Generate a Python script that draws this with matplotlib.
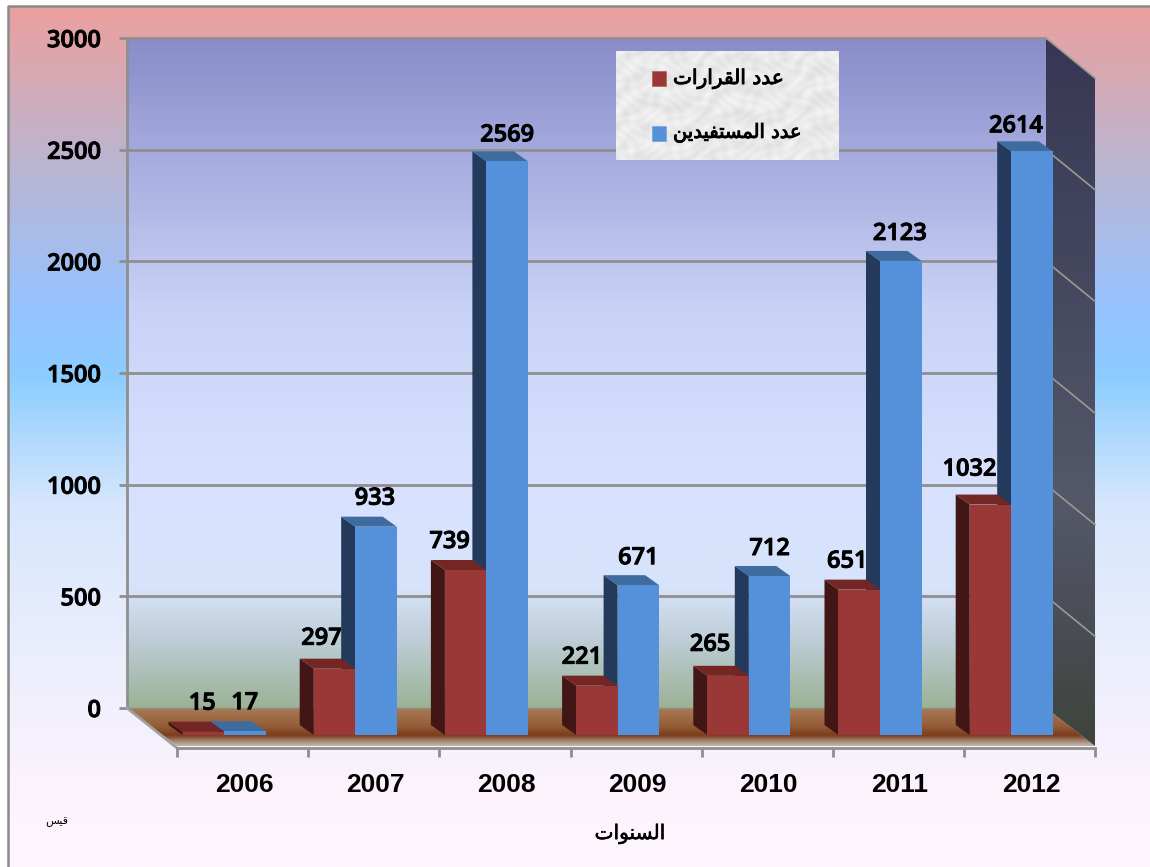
import matplotlib
matplotlib.use('Agg')
import matplotlib.pyplot as plt
import matplotlib.patheffects as pe
import numpy as np
from matplotlib.colors import LinearSegmentedColormap
from matplotlib.patches import Polygon

# Chart data
years = ['2006', '2007', '2008', '2009', '2010', '2011', '2012']
decisions = [15, 297, 739, 221, 265, 651, 1032]
beneficiaries = [17, 933, 2569, 671, 712, 2123, 2614]
y_ticks = [0, 500, 1000, 1500, 2000, 2500, 3000]
legend_decisions = 'عدد القرارات'
legend_beneficiaries = 'عدد المستفيدين'
x_title = 'السنوات'
note = 'قيس'

# Label nudges in pixels, the labels do not sit centered in the original
red_label_dx = [-1, -13, -16, -15, -18, -12, -21]
blue_label_dx = [0, -1, 0, 0, 0, -1, -16]
red_label_dy = [28, 30, 28, 28, 31, 28, 35]
blue_label_dy = [28, 28, 26, 27, 27, 27, 25]

# Arabic joining forms (iso, final, initial, medial), matplotlib does not shape
forms = {
    'ا': (0xFE8D, 0xFE8E), 'د': (0xFEA9, 0xFEAA), 'ر': (0xFEAD, 0xFEAE), 'و': (0xFEED, 0xFEEE),
    'ت': (0xFE95, 0xFE96, 0xFE97, 0xFE98), 'ع': (0xFEC9, 0xFECA, 0xFECB, 0xFECC),
    'ل': (0xFEDD, 0xFEDE, 0xFEDF, 0xFEE0), 'ق': (0xFED5, 0xFED6, 0xFED7, 0xFED8),
    'م': (0xFEE1, 0xFEE2, 0xFEE3, 0xFEE4), 'س': (0xFEB1, 0xFEB2, 0xFEB3, 0xFEB4),
    'ف': (0xFED1, 0xFED2, 0xFED3, 0xFED4), 'ي': (0xFEF1, 0xFEF2, 0xFEF3, 0xFEF4),
    'ن': (0xFEE5, 0xFEE6, 0xFEE7, 0xFEE8),
}

def shape(text):
    out = []
    for i, ch in enumerate(text):
        if ch not in forms:
            out.append(ch)
            continue
        prev = text[i - 1] if i > 0 else ' '
        nxt = text[i + 1] if i + 1 < len(text) else ' '
        joins_prev = prev in forms and len(forms[prev]) == 4
        joins_next = nxt in forms and len(forms[ch]) == 4
        idx = {(0, 0): 0, (1, 0): 1, (0, 1): 2, (1, 1): 3}[(int(joins_prev), int(joins_next))]
        out.append(chr(forms[ch][idx]))
    return ''.join(reversed(out))

W, H = 1150, 867
PX_PER_UNIT = 0.2233
WALL_L, WALL_R, WALL_BASE = 127, 1046, 708
DX, DY = 49, 38
BAR_BASE = 735
BAR_W = 41.5
BAR_X0, CAT_W = 224, 131.2
DEPTH_X, DEPTH_Y = 14, 10
heavy = [pe.withStroke(linewidth=0.7, foreground='black')]

def wall_y(v):
    return WALL_BASE - v * PX_PER_UNIT

def gradient(ax, stops, x0, x1, y0, y1, clip=None, zorder=1):
    cmap = LinearSegmentedColormap.from_list('g', [(p, np.array(c) / 255) for p, c in stops])
    img = np.linspace(0, 1, 512).reshape(-1, 1)
    im = ax.imshow(img, cmap=cmap, extent=(x0, x1, y1, y0), aspect='auto', zorder=zorder,
                   vmin=0, vmax=1, interpolation='bilinear')
    if clip is not None:
        patch = Polygon(clip, closed=True, transform=ax.transData, fc='none', ec='none')
        ax.add_patch(patch)
        im.set_clip_path(patch)

fig = plt.figure(figsize=(W / 100, H / 100), dpi=100)
bg = fig.add_axes([0, 0, 1, 1])
ax = fig.add_axes([0, 0, 1, 1])

# Page background
gradient(bg, [(0, (236, 160, 158)), (0.17, (190, 180, 205)), (0.35, (150, 195, 255)),
              (0.43, (140, 205, 255)), (0.58, (215, 230, 252)), (0.8, (240, 240, 252)),
              (0.92, (253, 243, 253)), (1, (254, 246, 254))], 8, W, 6, H)
bg.plot([8, 8, W], [H, 6, 6], color='#8a8a8a', lw=1.8, zorder=2)

# Back wall, floor and right wall
gradient(bg, [(0, (136, 140, 200)), (0.17, (165, 170, 222)), (0.4, (200, 210, 245)),
              (0.66, (215, 225, 255)), (0.82, (215, 228, 250)), (0.9, (190, 205, 215)),
              (1, (155, 178, 150))], WALL_L, WALL_R, wall_y(3000), wall_y(0), zorder=3)
floor = [(WALL_L, WALL_BASE), (WALL_R, WALL_BASE), (WALL_R + DX, WALL_BASE + DY), (WALL_L + DX + 1, WALL_BASE + DY)]
gradient(bg, [(0, (168, 122, 84)), (0.45, (150, 95, 58)), (0.72, (122, 62, 28)),
              (0.85, (160, 125, 100)), (1, (195, 185, 180))], WALL_L, WALL_R + DX, WALL_BASE, WALL_BASE + DY,
         clip=floor, zorder=3)
right_wall = [(WALL_R, wall_y(3000)), (WALL_R + DX, wall_y(3000) + 40), (WALL_R + DX, WALL_BASE + DY), (WALL_R, WALL_BASE)]
gradient(bg, [(0, (55, 55, 85)), (0.35, (70, 72, 95)), (0.65, (85, 88, 105)), (0.85, (72, 76, 82)),
              (1, (62, 68, 58))], WALL_R, WALL_R + DX, wall_y(3000), WALL_BASE + DY, clip=right_wall, zorder=3)

# Grid lines and frame
grid = '#8f8f8f'
for v in y_ticks:
    y = wall_y(v)
    if v > 0:
        bg.plot([119, WALL_R], [y, y], color=grid, lw=2, zorder=4, solid_capstyle='butt')
        bg.plot([WALL_R, WALL_R + DX], [y, y + 40], color='#9a9a90', lw=1.2, zorder=4)
    else:
        bg.plot([119, WALL_L], [y, y], color=grid, lw=2, zorder=4, solid_capstyle='butt')
        bg.plot([WALL_L, WALL_R], [y, y], color='#8f8f7f', lw=1, zorder=4)
    bg.text(101, y + 3, str(v), ha='right', va='center', fontsize=17, family='Open Sans', weight='semibold',
            zorder=6, path_effects=heavy)
bg.plot([WALL_L, WALL_L], [wall_y(3000), WALL_BASE], color=grid, lw=2, zorder=4)
bg.plot([WALL_L, WALL_L + DX + 1], [WALL_BASE, WALL_BASE + DY + 2], color='#a0a0a0', lw=2, zorder=4)
bg.plot([WALL_L + DX + 1, WALL_R + DX], [748, 748], color=grid, lw=2, zorder=4)
for i in range(len(years) + 1):
    tx = WALL_L + DX + 1 + i * CAT_W
    bg.plot([tx, tx], [748, 757], color=grid, lw=2, zorder=4, solid_capstyle='butt')
for i, year in enumerate(years):
    bg.text(244 + i * CAT_W, 785, year, ha='center', va='center', fontsize=19, family='Liberation Sans',
            weight='bold', zorder=6)

# Legend with a mottled paper look
xx, yy = np.meshgrid(np.arange(223), np.arange(109))
tex = 233 + 6 * np.sin(xx * 0.31 + 2 * np.sin(yy * 0.19)) * np.sin(yy * 0.37 + 2 * np.cos(xx * 0.13)) \
    + 4 * np.sin(xx * 0.11 + yy * 0.23 + 3 * np.sin(xx * 0.07))
bg.imshow(tex, cmap='gray', vmin=0, vmax=255, extent=(616, 839, 160, 51), aspect='auto', zorder=5,
          interpolation='bilinear')
bg.add_patch(plt.Rectangle((652, 71), 14, 15, fc='#993836', ec='#b06060', lw=0.5, zorder=6))
bg.add_patch(plt.Rectangle((652, 126), 14, 15, fc='#5591da', ec='#70a5e0', lw=0.5, zorder=6))
bg.text(673, 79, shape(legend_decisions), ha='left', va='center', fontsize=14.5, family='DejaVu Sans', zorder=6,
        path_effects=heavy)
bg.text(673, 133, shape(legend_beneficiaries), ha='left', va='center', fontsize=14, family='DejaVu Sans', zorder=6,
        path_effects=heavy)

bg.text(630, 834, shape(x_title), ha='center', va='center', fontsize=14.5, family='DejaVu Sans', zorder=6,
        path_effects=[pe.withStroke(linewidth=0.4, foreground='black')])
bg.text(57, 822, shape(note), ha='center', va='center', fontsize=8, family='DejaVu Sans', zorder=6)

bg.set_xlim(0, W)
bg.set_ylim(H, 0)
bg.axis('off')

# Bars live in their own axes, lined up with the front plane of the bars
ax.set_xlim(-BAR_X0 / CAT_W, (W - BAR_X0) / CAT_W)
ax.set_ylim((BAR_BASE - H) / PX_PER_UNIT, BAR_BASE / PX_PER_UNIT)
ax.patch.set_alpha(0)
ax.axis('off')

bw = BAR_W / CAT_W
depth_x = DEPTH_X / CAT_W
depth_y = DEPTH_Y / PX_PER_UNIT

def bars_3d(values, left, front, side, top, label_dx, label_dy, z):
    x = np.arange(len(values)) + left
    ax.bar(x, values, width=bw, align='edge', color=front, linewidth=0, zorder=z + 1)
    for xi, v, dx, dy in zip(x, values, label_dx, label_dy):
        ax.fill([xi, xi - depth_x, xi - depth_x, xi], [0, depth_y, v + depth_y, v], color=side, lw=0, zorder=z)
        ax.fill([xi, xi - depth_x, xi + bw - depth_x, xi + bw],
                [v, v + depth_y, v + depth_y, v], color=top, lw=0, zorder=z)
        ax.annotate(str(v), (xi + bw / 2, v), xytext=(dx * 0.72, dy * 0.72), textcoords='offset points',
                    ha='center', va='center', fontsize=17, family='Open Sans', weight='semibold', zorder=10,
                    path_effects=heavy)

bars_3d(beneficiaries, 0, '#5591da', '#233a5c', '#3e6ca0', blue_label_dx, blue_label_dy, 3)
bars_3d(decisions, -bw, '#993836', '#411614', '#732624', red_label_dx, red_label_dy, 5)

fig.savefig('out.png', dpi=100, facecolor='white')
